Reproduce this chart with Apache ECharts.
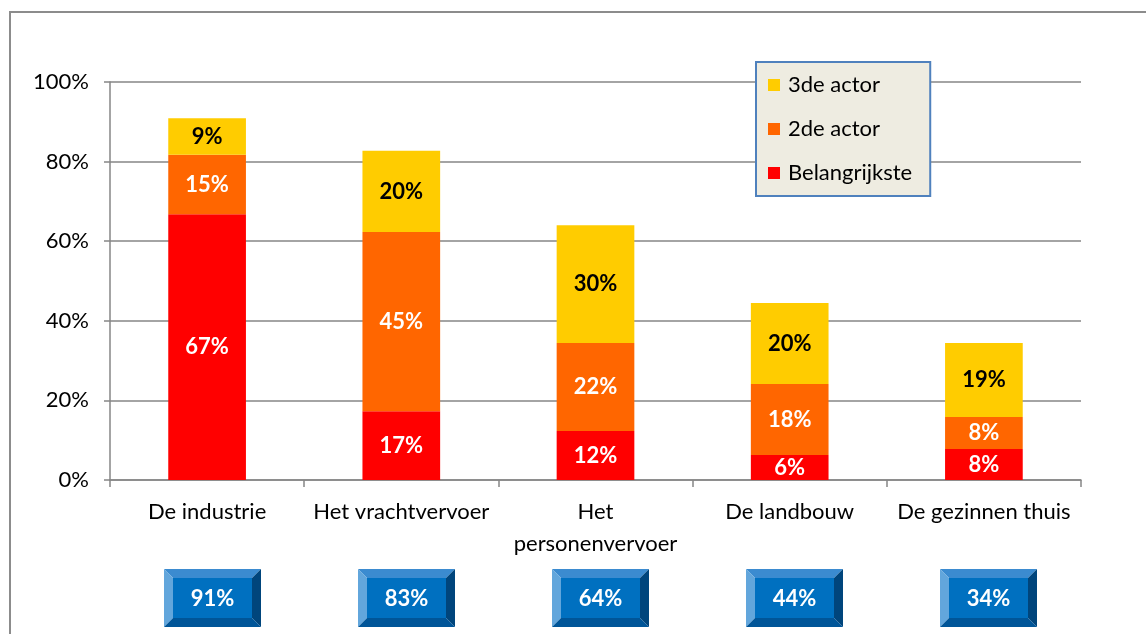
<!DOCTYPE html>
<html><head><meta charset="utf-8">
<script src="https://cdn.jsdelivr.net/npm/echarts@6/dist/echarts.min.js"></script>
<style>html,body{margin:0;padding:0;background:#fff}#c{width:1146px;height:634px}</style>
</head><body><div id="c"></div>
<script>
const categories = ['De industrie', 'Het vrachtvervoer', 'Het\npersonenvervoer', 'De landbouw', 'De gezinnen thuis'];
const belangrijkste = [66.8, 17.3, 12.3, 6.3, 7.8];
const tweedeActor = [14.9, 45.0, 22.1, 17.8, 8.0];
const derdeActor = [9.2, 20.4, 29.6, 20.4, 18.6];
const totals = [91, 83, 64, 44, 34];
const seriesNames = ['Belangrijkste', '2de actor', '3de actor'];

const FONT = 'Lato, "Open Sans", sans-serif';
const chart = echarts.init(document.getElementById('c'), null, {renderer: 'canvas'});

function lbl(color) {
  return {show: true, position: 'inside', color: color, fontWeight: 'bold', fontSize: 22, fontFamily: FONT,
    formatter: p => Math.round(p.value) + '%'};
}

const frame = {type: 'rect', id: 'frame', shape: {x: 10, y: 12, width: 1150, height: 640},
  style: {fill: 'none', stroke: '#8c8c8c', lineWidth: 2}, z: 0, silent: true};

chart.setOption({
  animation: false,
  textStyle: {fontFamily: FONT},
  grid: {left: 110, right: 65, top: 82, bottom: 154, containLabel: false},
  legend: {
    orient: 'vertical', left: 756, top: 62,
    data: [seriesNames[2], seriesNames[1], seriesNames[0]],
    backgroundColor: '#eeece1', borderColor: '#4f81bd', borderWidth: 2, borderRadius: 0,
    padding: [12, 18, 12, 12], itemGap: 22, itemWidth: 12, itemHeight: 12, icon: 'rect',
    textStyle: {fontSize: 22, color: '#000', fontFamily: FONT, padding: [0, 0, 0, 3]}
  },
  xAxis: {
    type: 'category', data: categories,
    axisLine: {lineStyle: {color: '#868686', width: 1.5}},
    axisTick: {show: true, length: 7, lineStyle: {color: '#868686', width: 1.5}},
    axisLabel: {color: '#000', fontSize: 22, fontFamily: FONT, margin: 16, lineHeight: 32, interval: 0}
  },
  yAxis: {
    type: 'value', min: 0, max: 100, interval: 20,
    axisLine: {show: true, lineStyle: {color: '#868686', width: 1.5}},
    axisTick: {show: true, length: 6, lineStyle: {color: '#868686', width: 1.5}},
    splitLine: {lineStyle: {color: '#868686', width: 1.5}},
    axisLabel: {formatter: '{value}%', color: '#000', fontSize: 22, fontFamily: FONT, margin: 21}
  },
  series: [
    {name: seriesNames[0], type: 'bar', stack: 't', data: belangrijkste, barWidth: '40%',
      itemStyle: {color: '#ff0000'}, label: lbl('#fff')},
    {name: seriesNames[1], type: 'bar', stack: 't', data: tweedeActor, barWidth: '40%',
      itemStyle: {color: '#ff6600'}, label: lbl('#fff')},
    {name: seriesNames[2], type: 'bar', stack: 't', data: derdeActor, barWidth: '40%',
      itemStyle: {color: '#ffcc00'}, label: lbl('#000')}
  ],
  graphic: [frame]
});

function drawBoxes() {
  const els = [frame];
  totals.forEach((t, i) => {
    const cx = chart.convertToPixel({xAxisIndex: 0}, i) + 5;
    const w = 97, h = 58, b = 9, x0 = Math.round(cx - w / 2), y0 = 569;
    const poly = (pts, fill) => ({type: 'polygon', shape: {points: pts}, style: {fill: fill}, silent: true, z: 10});
    els.push(poly([[x0, y0], [x0 + w, y0], [x0 + w - b, y0 + b], [x0 + b, y0 + b]], '#3b8bd0'));
    els.push(poly([[x0, y0], [x0 + b, y0 + b], [x0 + b, y0 + h - b], [x0, y0 + h]], '#62a6dc'));
    els.push(poly([[x0 + w, y0], [x0 + w, y0 + h], [x0 + w - b, y0 + h - b], [x0 + w - b, y0 + b]], '#00457c'));
    els.push(poly([[x0, y0 + h], [x0 + b, y0 + h - b], [x0 + w - b, y0 + h - b], [x0 + w, y0 + h]], '#005598'));
    els.push({type: 'rect', shape: {x: x0 + b, y: y0 + b, width: w - 2 * b, height: h - 2 * b},
      style: {fill: '#0070c0'}, silent: true, z: 10});
    els.push({type: 'text', x: x0 + w / 2, y: y0 + h / 2 + 1, z: 11, silent: true,
      style: {text: t + '%', fill: '#fff', font: 'bold 22px ' + FONT, align: 'center', verticalAlign: 'middle'}});
  });
  chart.setOption({graphic: els}, {replaceMerge: ['graphic']});
}
drawBoxes();
</script></body></html>
